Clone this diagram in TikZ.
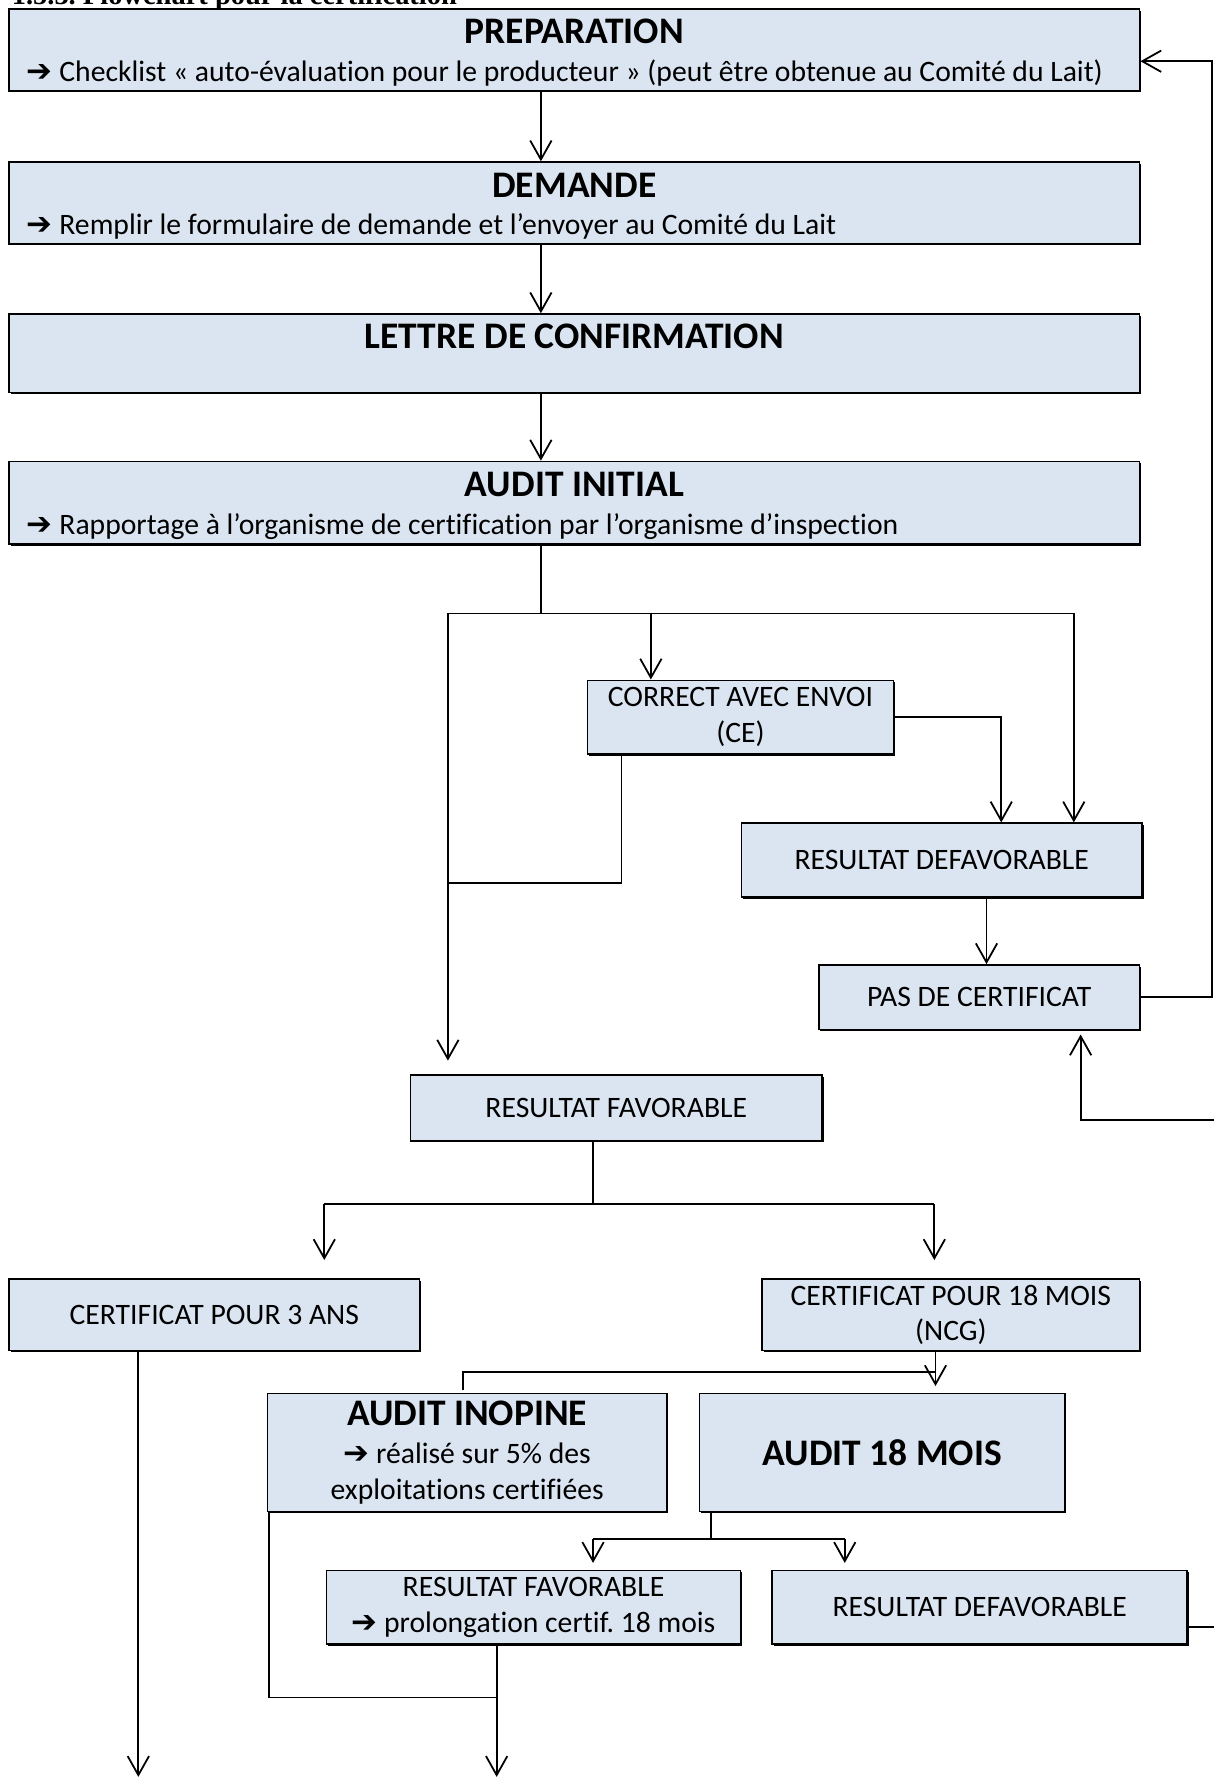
\documentclass[tikz,border=0pt]{standalone}
\usepackage{fontspec}
\setmainfont[Ligatures=NoCommon]{Carlito}
\newfontfamily\flechefont{DejaVu Sans}
\newfontfamily\entetefont{Liberation Serif}
\usetikzlibrary{arrows.meta,positioning,calc,shadows}
\definecolor{boxblue}{HTML}{DBE5F1}
\newcommand{\puce}{{\flechefont\bfseries\fontsize{13}{15}\selectfont\char"2794}}
\frenchspacing
\tikzset{
	boite/.style={draw,line width=0.7pt,fill=boxblue,inner sep=2pt,align=center,
		font=\fontsize{12.5}{15}\selectfont,
		drop shadow={shadow xshift=0.7pt,shadow yshift=-0.7pt,fill=black,opacity=1}},
	taille/.style 2 args={minimum width=#1*0.0168cm,minimum height=#2*0.0168cm},
	titre/.style={font=\fontsize{15.8}{18}\selectfont\bfseries,anchor=base,inner sep=0pt},
	sousligne/.style={font=\fontsize{12.5}{15}\selectfont,anchor=base west,inner sep=0pt},
	trait/.style={line width=0.75pt},
	fleche/.style={->,>={Straight Barb[length=8pt,width=9pt]},line width=0.75pt}
}
\begin{document}
\begin{tikzpicture}[x=0.0168cm,y=-0.0168cm]
	\useasboundingbox (0,0) rectangle (1071,1568);
	\node[anchor=base west,inner sep=0pt,font=\entetefont\bfseries\fontsize{12}{14}\selectfont] (entete) at (10,4) {1.5.3. Flowchart pour la certification};
	
	% grandes etapes
	\node[boite,taille={997}{72}] (prep) at (506.5,44) {};
	\node[boite,taille={997}{72}] (dem) at (506.5,179) {};
	\node[boite,taille={997}{69}] (lettre) at (506.5,311.5) {};
	\node[boite,taille={997}{73}] (audit) at (506.5,443.5) {};
	\node[titre] (prept) at ($(prep.north)+(0,31.5)$) {PREPARATION};
	\node[sousligne] (prepl) at ($(prep.south west)+(16,-8.5)$) {\puce{} Checklist « auto-évaluation pour le producteur » (peut être obtenue au Comité du Lait)};
	\node[titre] (demt) at ($(dem.north)+(0,31.5)$) {DEMANDE};
	\node[sousligne] (deml) at ($(dem.south west)+(16,-9)$) {\puce{} Remplir le formulaire de demande et l’envoyer au Comité du Lait};
	\node[titre] (lettret) at ($(lettre.north)+(0,31.5)$) {LETTRE DE CONFIRMATION};
	\node[titre] (auditt) at ($(audit.north)+(0,31.5)$) {AUDIT INITIAL};
	\node[sousligne] (auditl) at ($(audit.south west)+(16,-9)$) {\puce{} Rapportage à l’organisme de certification par l’organisme d’inspection};
	
	% resultats de l'audit initial
	\node[boite,taille={270}{65}] (ce) at (653,632.5) {CORRECT AVEC ENVOI\\(CE)};
	\node[boite,taille={353}{65}] (defav) at (830.5,758.5) {RESULTAT DEFAVORABLE};
	\node[boite,taille={283}{57}] (pascert) at (863.5,879.5) {PAS DE CERTIFICAT};
	\node[boite,taille={363}{58}] (fav) at (543.5,977) {RESULTAT FAVORABLE};
	\node[boite,taille={362}{63}] (cert3) at (189,1159.5) {CERTIFICAT POUR 3 ANS};
	\node[boite,taille={333}{63}] (cert18) at (838.5,1159.5) {CERTIFICAT POUR 18 MOIS\\(NCG)};
	\node[boite,taille={352}{104}] (inopine) at (412,1281) {{\fontsize{15.8}{18}\selectfont\bfseries AUDIT INOPINE}\\[1pt]\puce{} réalisé sur 5\% des\\exploitations certifiées};
	\node[boite,taille={322}{104},font=\fontsize{15.8}{18}\selectfont\bfseries] (audit18) at (778,1281) {AUDIT 18 MOIS};
	\node[boite,taille={365}{65}] (fav2) at (470.5,1417.5) {RESULTAT FAVORABLE\\\puce{} prolongation certif. 18 mois};
	\node[boite,taille={366}{65}] (defav2) at (864,1417.5) {RESULTAT DEFAVORABLE};
	
	% points de jonction
	\coordinate (axe) at (477,0);
	\coordinate (j1) at (477,541);
	\coordinate (jg) at (395,541);
	\coordinate (jd) at (947,541);
	\coordinate (jce) at (574,541);
	\coordinate (kx) at (883,700);
	\coordinate (jb) at (395,779);
	\coordinate (bord) at (1069,54);
	\coordinate (retour) at (1071,988);
	\coordinate (jf) at (523,1062);
	\coordinate (jf1) at (286,1062);
	\coordinate (jf2) at (824,1062);
	\coordinate (ji1) at (408,1226);
	\coordinate (ji2) at (825,1210);
	\coordinate (bas1) at (122,1567);
	\coordinate (bas2) at (438,1567);
	\coordinate (jr) at (438,1497);
	\coordinate (ja) at (627,1357);
	\coordinate (ja1) at (523,1357);
	\coordinate (ja2) at (745,1357);
	\coordinate (bord2) at (1071,1435);
	
	\draw[fleche] (prep.south -| axe) -- (dem.north -| axe);
	\draw[fleche] (dem.south -| axe) -- (lettre.north -| axe);
	\draw[fleche] (lettre.south -| axe) -- (audit.north -| axe);
	\draw[trait] (audit.south -| axe) -- (j1);
	\draw[trait] (jg) -- (jd);
	\draw[fleche] (jce) -- (jce |- ce.north);
	\draw[fleche] (jd) -- (jd |- defav.north);
	\draw[fleche] (ce.east) -| (kx |- defav.north);
	\draw[trait] ($(ce.south)+(-105,0)$) |- (jb);
	\draw[fleche,shorten >=0.2cm] (jg) -- (jg |- fav.north);
	\draw[fleche] ($(defav.south)+(39.5,0)$) -- ($(pascert.north)+(6.5,0)$);
	\draw[fleche] (pascert.east) -| (bord) -- (bord -| prep.east);
	\draw[fleche,shorten >=0.06cm] (retour) -| ($(pascert.south)+(89.5,0)$);
	
	\draw[trait] ($(fav.south)+(-20.5,0)$) -- (jf);
	\draw[trait] (jf1) -- (jf2);
	\draw[fleche,shorten >=0.27cm] (jf1) -- (jf1 |- cert3.north);
	\draw[fleche,shorten >=0.27cm] (jf2) -- (jf2 |- cert18.north);
	
	\draw[fleche,shorten >=0.1cm] ($(cert18.south)+(-13.5,0)$) -- ($(audit18.north)+(47,0)$);
	\draw[trait] (ji1) |- (ji2);
	\draw[fleche] (cert3.south -| bas1) -- (bas1);
	\draw[trait] ($(inopine.west)+(0,-13)$) -- ($(inopine.west)+(0,-13)$ -| bas1);
	\draw[trait] ($(inopine.south west)+(2,0)$) |- (jr);
	\draw[fleche] (fav2.south -| bas2) -- (bas2);
	
	\draw[trait] (audit18.south -| ja) -- (ja);
	\draw[trait] (ja1) -- (ja2);
	\draw[fleche,shorten >=0.1cm] (ja1) -- (ja1 |- fav2.north);
	\draw[fleche,shorten >=0.1cm] (ja2) -- (ja2 |- defav2.north);
	\draw[trait] ($(defav2.east)+(0,17.5)$) -- (bord2);
\end{tikzpicture}
\end{document}
